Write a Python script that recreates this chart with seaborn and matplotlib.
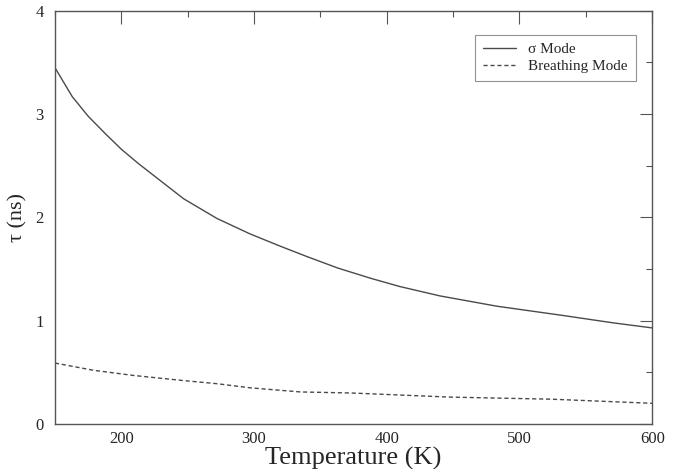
import matplotlib
matplotlib.use("Agg")
import matplotlib.pyplot as plt
import seaborn as sns
import pandas as pd
from matplotlib.ticker import MultipleLocator

# data
sigma_T = [150, 163, 175, 188, 200, 213, 222, 247, 272, 297, 320, 340, 363, 388,
           410, 440, 483, 533, 570, 600]
sigma_tau = [3.45, 3.17, 2.98, 2.81, 2.66, 2.52, 2.43, 2.18, 1.99, 1.84, 1.72, 1.62,
             1.51, 1.41, 1.33, 1.24, 1.14, 1.05, 0.98, 0.93]
breath_T = [150, 179, 209, 247, 272, 297, 335, 373, 448, 524, 600]
breath_tau = [0.59, 0.52, 0.47, 0.42, 0.39, 0.35, 0.31, 0.30, 0.26, 0.24, 0.20]
labels = ["σ Mode", "Breathing Mode"]
x_ticks = [200, 300, 400, 500, 600]
y_ticks = [0, 1, 2, 3, 4]

sns.set_theme(style="white")
plt.rcParams['font.family'] = ['Liberation Serif', 'DejaVu Serif']

df = pd.concat([
    pd.DataFrame({"T": sigma_T, "tau": sigma_tau, "mode": labels[0]}),
    pd.DataFrame({"T": breath_T, "tau": breath_tau, "mode": labels[1]}),
])

fig = plt.figure(figsize=(6.78, 4.69), dpi=100)
ax = fig.add_axes([0.081, 0.096, 0.881, 0.881])

sns.lineplot(data=df, x="T", y="tau", style="mode", style_order=labels,
             dashes={labels[0]: "", labels[1]: (3, 2)},
             color="#4a4a4a", linewidth=1.0, ax=ax, sort=True)

ax.set_xlim(150, 600)
ax.set_ylim(0, 4)
ax.set_xticks(x_ticks)
ax.set_yticks(y_ticks)
ax.xaxis.set_minor_locator(MultipleLocator(50))
ax.yaxis.set_minor_locator(MultipleLocator(0.5))
ax.tick_params(which="both", direction="in", top=True, right=True, color="#555555")
ax.tick_params(which="major", length=9, width=0.8, labelsize=12)
ax.tick_params(axis="y", which="major", pad=8)
ax.tick_params(axis="x", which="major", pad=5)
ax.tick_params(which="minor", length=4.5, width=0.8)
for s in ax.spines.values():
    s.set_color("#555555")
    s.set_linewidth(1.0)

ax.set_xlabel("Temperature (K)", fontsize=19, labelpad=0)
ax.set_ylabel("τ (ns)", fontsize=16, labelpad=6)

leg = ax.legend(loc="upper right", bbox_to_anchor=(0.985, 0.96), fontsize=11,
                frameon=True, fancybox=False, edgecolor="#777777",
                handlelength=2.2, borderpad=0.5, labelspacing=0.2)
leg.get_frame().set_linewidth(0.8)
leg.set_title(None)

fig.savefig("out.png", dpi=100)
